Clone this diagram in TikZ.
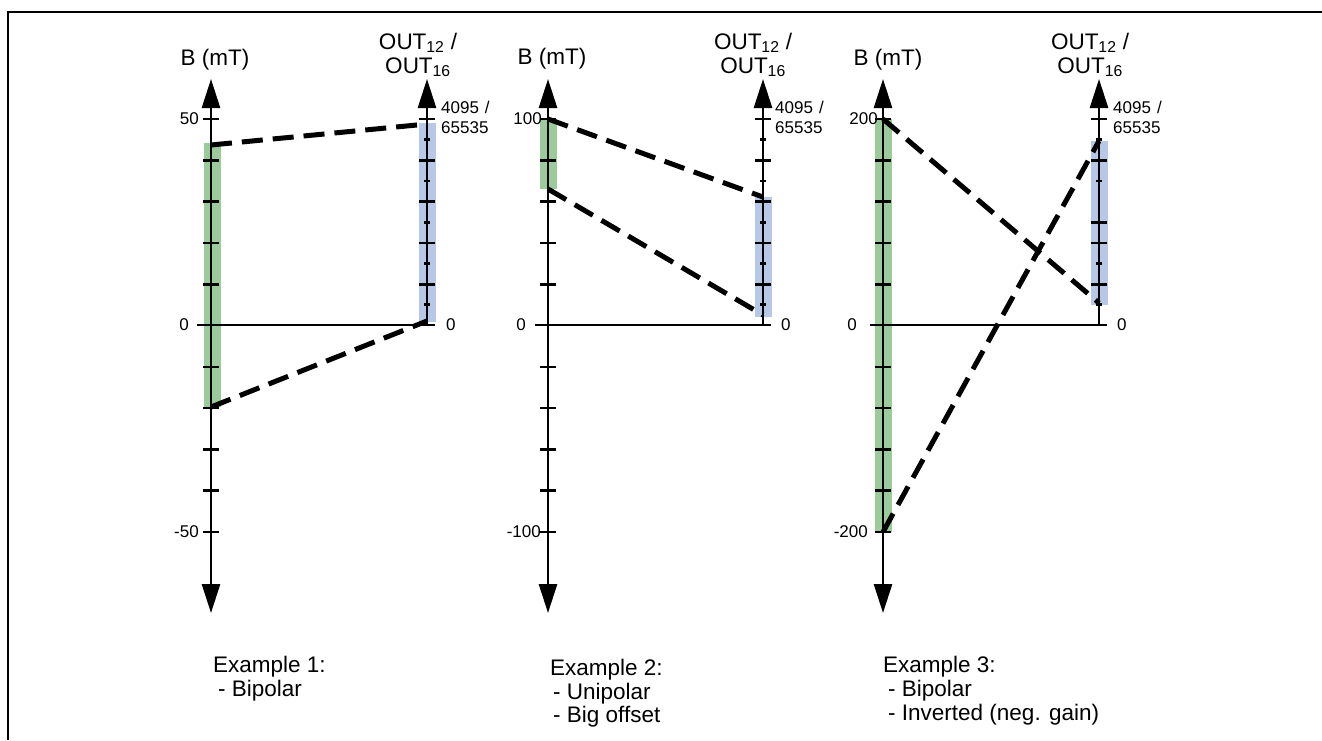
\documentclass[tikz,border=0pt]{standalone}
\usepackage{fontspec}
\setmainfont{Liberation Sans}
\usetikzlibrary{arrows.meta}
\definecolor{bandgreen}{RGB}{155,203,155}
\definecolor{bandblue}{RGB}{182,200,230}
\newcommand\mylbl{\fontsize{22.5}{26}\selectfont}
\newcommand\mynum{\fontsize{17}{20}\selectfont}
\begin{document}
\begin{tikzpicture}[x=1pt,y=-1pt,
  axisline/.style={line width=2.7pt},
  bothtips/.style={{Triangle[width=18pt,length=29pt]}-{Triangle[width=18pt,length=29pt]}},
  uptip/.style={-{Triangle[width=18pt,length=29pt]}},
  tickline/.style={line width=2.6pt},
  mapline/.style={line width=5pt, dash pattern=on 21pt off 10pt},
  lbl/.style={inner sep=0pt, font=\mylbl},
  numlbl/.style={inner sep=0pt, font=\mynum},
  frameline/.style={line width=1.1pt}]
\useasboundingbox (0,0) rectangle (1322,740);
\draw[frameline] (8,740) -- (8,12) -- (1322,12);

\def\tickys{119,160.3,201.6,242.9,284.2,366.8,408.1,449.4,490.7,532}

% ===== Panel 1 =====
\fill[bandgreen] (203.5,143) rectangle (220.5,407);
\fill[bandblue] (419,123) rectangle (436,322);
\draw[axisline] (197,325) -- (435,325);
\draw[axisline,bothtips] (211,613) -- (211,79);
\draw[axisline,uptip] (427,325) -- (427,79);
\foreach \y in \tickys {\draw[tickline] (203,\y) -- (219,\y);}
\foreach \y in {119,160.3,201.6,242.9,284.2} {\draw[tickline] (419,\y) -- (435,\y);}
\foreach \y in {139.6,181,222.2,263.5,304.4} {\draw[tickline] (424,\y) -- (430,\y);}
\coordinate (a1) at (211,145);
\coordinate (b1) at (427,124);
\coordinate (c1) at (211,407);
\coordinate (d1) at (427,321);
\draw[mapline] (a1) -- (b1);
\draw[mapline] (c1) -- (d1);
\node[lbl,anchor=base] (bl1) at (215,65) {B (mT)};
\node[lbl,anchor=base] (ol1) at (418,49) {OUT\textsubscript{12} /};
\node[lbl,anchor=base] (om1) at (418,73) {OUT\textsubscript{16}};
\node[numlbl,anchor=base west] (n1a) at (441,113) {4095\hspace{6pt}/};
\node[numlbl,anchor=base west] (n1b) at (441,133) {65535};
\node[numlbl,anchor=east] (t1a) at (199,119) {50};
\node[numlbl,anchor=east] (t1b) at (189,325) {0};
\node[numlbl,anchor=east] (t1c) at (199,532) {-50};
\node[numlbl,anchor=west] (t1d) at (446,325) {0};
\node[lbl,anchor=base west] (e1a) at (213,672) {Example 1:};
\node[lbl,anchor=base west] (e1b) at (218,696) {- Bipolar};

% ===== Panel 2 =====
\fill[bandgreen] (539.5,119) rectangle (556.5,189);
\fill[bandblue] (754.5,197) rectangle (771.5,317);
\draw[axisline] (535,325) -- (771,325);
\draw[axisline,bothtips] (548,613) -- (548,79);
\draw[axisline,uptip] (763,325) -- (763,79);
\foreach \y in \tickys {\draw[tickline] (540,\y) -- (556,\y);}
\foreach \y in {119,160.3,201.6,242.9,284.2} {\draw[tickline] (755,\y) -- (771,\y);}
\foreach \y in {139.6,181,222.2,263.5,304.4} {\draw[tickline] (760,\y) -- (766,\y);}
\coordinate (a2) at (548,119);
\coordinate (b2) at (763,197);
\coordinate (c2) at (548,189);
\coordinate (d2) at (763,315);
\draw[mapline] (a2) -- (b2);
\draw[mapline] (c2) -- (d2);
\node[lbl,anchor=base] (bl2) at (552,64) {B (mT)};
\node[lbl,anchor=base] (ol2) at (753,49) {OUT\textsubscript{12} /};
\node[lbl,anchor=base] (om2) at (753,73) {OUT\textsubscript{16}};
\node[numlbl,anchor=base west] (n2a) at (775,113) {4095\hspace{6pt}/};
\node[numlbl,anchor=base west] (n2b) at (775,133) {65535};
\node[numlbl,anchor=east] (t2a) at (542,119) {100};
\node[numlbl,anchor=east] (t2b) at (526,325) {0};
\node[numlbl,anchor=east] (t2c) at (541,532) {-100};
\node[numlbl,anchor=west] (t2d) at (781,325) {0};
\node[lbl,anchor=base west] (e2a) at (550,675) {Example 2:};
\node[lbl,anchor=base west] (e2b) at (553,699) {- Unipolar};
\node[lbl,anchor=base west] (e2c) at (553,722) {- Big offset};

% ===== Panel 3 =====
\fill[bandgreen] (875,119) rectangle (892,532);
\fill[bandblue] (1090.5,141) rectangle (1107.5,305);
\draw[axisline] (870,325) -- (1107,325);
\draw[axisline,bothtips] (883,613) -- (883,79);
\draw[axisline,uptip] (1099,325) -- (1099,79);
\foreach \y in \tickys {\draw[tickline] (875,\y) -- (891,\y);}
\foreach \y in {119,160.3,222.6,242.9,284.2} {\draw[tickline] (1091,\y) -- (1107,\y);}
\foreach \y in {139.6,181,263.5,304.4} {\draw[tickline] (1096,\y) -- (1102,\y);}
\coordinate (a3) at (883,119);
\coordinate (b3) at (1099,303);
\coordinate (c3) at (883,532);
\coordinate (d3) at (1099,141);
\draw[mapline] (a3) -- (b3);
\draw[mapline] (c3) -- (d3);
\node[lbl,anchor=base] (bl3) at (888,65) {B (mT)};
\node[lbl,anchor=base] (ol3) at (1090,49) {OUT\textsubscript{12} /};
\node[lbl,anchor=base] (om3) at (1090,73) {OUT\textsubscript{16}};
\node[numlbl,anchor=base west] (n3a) at (1113,113) {4095\hspace{6pt}/};
\node[numlbl,anchor=base west] (n3b) at (1113,133) {65535};
\node[numlbl,anchor=east] (t3a) at (878,119) {200};
\node[numlbl,anchor=east] (t3b) at (857,325) {0};
\node[numlbl,anchor=east] (t3c) at (868,532) {-200};
\node[numlbl,anchor=west] (t3d) at (1117,325) {0};
\node[lbl,anchor=base west] (e3a) at (883,672) {Example 3:};
\node[lbl,anchor=base west] (e3b) at (888,696) {- Bipolar};
\node[lbl,anchor=base west] (e3c) at (888,720) {- Inverted (neg. gain)};
\end{tikzpicture}
\end{document}
